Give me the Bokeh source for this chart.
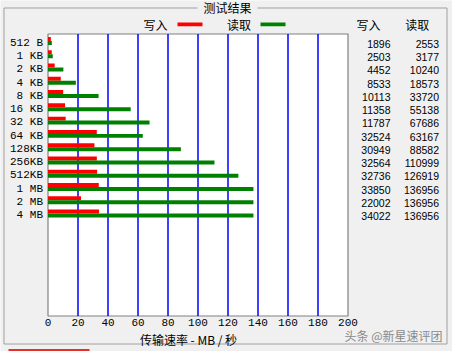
import numpy as np
from bokeh.plotting import figure
from bokeh.models import Range1d, FixedTicker
from bokeh.core.properties import value
from bokeh.embed import file_html
from bokeh.resources import INLINE

# ---- data ----
sizes = ["512 B", "1 KB", "2 KB", "4 KB", "8 KB", "16 KB", "32 KB", "64 KB",
         "128KB", "256KB", "512KB", "1 MB", "2 MB", "4 MB"]
write_kb = [1896, 2503, 4452, 8533, 10113, 11358, 11787, 32524, 30949, 32564,
            32736, 33850, 22002, 34022]
read_kb = [2553, 3177, 10240, 18573, 33720, 55138, 67686, 63167, 88582, 110999,
           126919, 136956, 136956, 136956]
x_ticks = [0, 20, 40, 60, 80, 100, 120, 140, 160, 180, 200]
title_text = "测试结果"
write_label = "写入"
read_label = "读取"
x_title = "传输速率 - MB / 秒"
watermark = "头条 @新星速评团"

CJK = "Noto Sans CJK SC"
MONO = "Liberation Mono"
NUM = "Liberation Sans"

# ---- geometry (pixel <-> data) ----
W, H = 452, 351
PL = 47.5          # pixel x of value 0
SX = 1.5           # px per MB/s
ROW0 = 42.2        # pixel y of first row label
SY = 13.27         # px per row


def dx(px):
    return (px - PL) / SX


def dy(py):
    return (ROW0 - py) / SY


n = len(sizes)
y_pos = -np.arange(n)

p = figure(width=W, height=H, output_backend="svg", toolbar_location=None,
           x_range=Range1d(dx(0), dx(W)), y_range=Range1d(dy(H), dy(0)),
           min_border=0)
p.min_border_left = p.min_border_right = p.min_border_top = p.min_border_bottom = 0
p.border_fill_color = "#f0f0f0"
p.background_fill_color = "#f0f0f0"
p.outline_line_color = None
p.xgrid.visible = False
p.ygrid.visible = False

box_top, box_bot = dy(33.5), dy(315.5)

# group box border
gx1, gx2, gy1, gy2 = dx(3.5), dx(446.5), dy(7.5), dy(343.5)
p.multi_line(xs=[[dx(197), gx1, gx1, gx2, gx2, dx(257)]],
             ys=[[gy1, gy1, gy2, gy2, gy1, gy1]],
             line_color="#a0a0a0", line_width=1)

# plot box
p.quad(left=[0], right=[200], bottom=[box_bot], top=[box_top],
       fill_color="white", line_color="#808080", line_width=1.2)

# vertical grid lines at ticks
gt = x_ticks[1:-1]
p.segment(x0=gt, x1=gt, y0=[box_bot] * len(gt), y1=[box_top] * len(gt),
          line_color="#0000ff", line_width=1.5)

# bars
w_mb = np.array(write_kb) / 1000.0
r_mb = np.array(read_kb) / 1000.0
p.hbar(y=y_pos + 0.278, left=0, right=w_mb, height=0.3,
       fill_color="#ff0000", line_color=None)
p.hbar(y=y_pos - 0.022, left=0, right=r_mb, height=0.3,
       fill_color="#008000", line_color=None)

# x axis (fixed inside canvas)
xa = p.xaxis[0]
xa.fixed_location = box_bot
xa.bounds = (-13, 200)
xa.ticker = FixedTicker(ticks=x_ticks)
xa.major_tick_out = 0
xa.major_tick_in = 0
xa.minor_tick_out = 0
xa.minor_tick_in = 0
xa.axis_line_color = None
xa.major_label_standoff = 3
xa.major_label_text_font = MONO
xa.major_label_text_font_size = "11px"
xa.major_label_text_color = "black"
xa.axis_label = x_title
xa.axis_label_text_font = CJK
xa.axis_label_text_font_style = "normal"
xa.axis_label_text_font_size = "12px"
xa.axis_label_text_color = "black"
xa.axis_label_standoff = 1

# y axis (fixed inside canvas)
ya = p.yaxis[0]
ya.fixed_location = 0
ya.ticker = FixedTicker(ticks=[int(v) for v in y_pos])
ya.major_label_overrides = {int(v): s for v, s in zip(y_pos, sizes)}
ya.major_tick_out = 0
ya.major_tick_in = 0
ya.minor_tick_out = 0
ya.minor_tick_in = 0
ya.axis_line_color = None
ya.major_label_standoff = 5
ya.major_label_text_font = MONO
ya.major_label_text_font_size = "11px"
ya.major_label_text_color = "black"

# title of group box
p.text(x=[dx(227)], y=[dy(7)], text=[title_text], text_align="center",
       text_baseline="middle", text_font=value(CJK), text_font_size="12px",
       text_color="black")

# legend
p.text(x=[dx(155), dx(238.5)], y=[dy(24), dy(24)], text=[write_label, read_label],
       text_align="center", text_baseline="middle", text_font=value(CJK),
       text_font_size="12px", text_color="black")
p.quad(left=[dx(177), dx(260)], right=[dx(202), dx(285)],
       bottom=[dy(25.7), dy(25.7)], top=[dy(22), dy(22)],
       fill_color=["#ff0000", "#008000"], line_color=None)

# right column headers
p.text(x=[dx(368), dx(416.7)], y=[dy(24), dy(24)], text=[write_label, read_label],
       text_align="center", text_baseline="middle", text_font=value(CJK),
       text_font_size="12px", text_color="black")

# right column values
p.text(x=dx(390), y=y_pos - 0.08, text=[str(v) for v in write_kb],
       text_align="right", text_baseline="middle", text_font=value(NUM),
       text_font_size="10.5px", text_color="black")
p.text(x=dx(438.5), y=y_pos - 0.08, text=[str(v) for v in read_kb],
       text_align="right", text_baseline="middle", text_font=value(NUM),
       text_font_size="10.5px", text_color="black")

# watermark
p.text(x=[dx(442)], y=[dy(335)], text=[watermark], text_align="right",
       text_baseline="middle", text_font=value(CJK), text_font_size="12px",
       text_color="#8a8a8a")

# red strip at the bottom
p.quad(left=[dx(8)], right=[dx(89)], bottom=[dy(352)], top=[dy(348.5)],
       fill_color="#e8302a", line_color=None)

open("out.html", "w").write(file_html(p, INLINE))
